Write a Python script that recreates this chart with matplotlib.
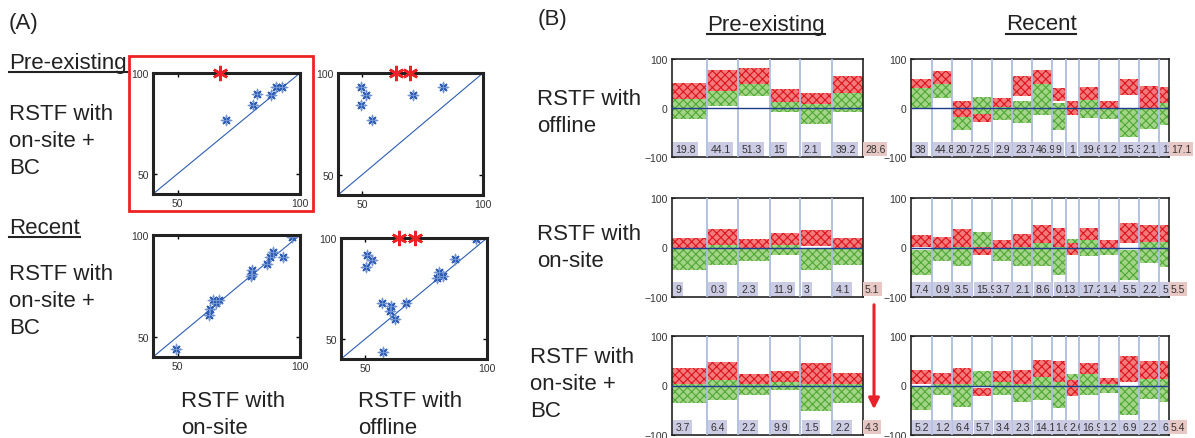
import numpy as np
import matplotlib.pyplot as plt
from matplotlib.lines import Line2D
from matplotlib.patches import Rectangle

plt.rcParams['font.family'] = ['Liberation Sans', 'DejaVu Sans']
plt.rcParams['hatch.linewidth'] = 0.8

# ---- (A) scatter data: y = RSTF with on-site + BC ----
pre_bc_y = [76.8, 84.2, 89.4, 89.1, 92.9, 93.0]
pre_onsite_x = [69.7, 80.7, 82.3, 88.2, 90.1, 92.8]
pre_offline_x = [54.1, 49.7, 51.4, 71.0, 49.7, 83.4]
pre_onsite_stars = [67.3]
pre_offline_stars = [63.9, 69.9]

rec_onsite_x = [49.5, 62.9, 63.2, 64.6, 65.9, 67.0, 79.8, 80.6, 80.3, 86.4, 87.7, 88.8, 92.9, 96.6]
rec_onsite_y = [43.8, 60.7, 63.4, 67.9, 66.7, 67.9, 79.8, 82.6, 80.7, 85.6, 89.2, 91.8, 89.2, 99.0]
rec_offline_x = [50.6, 52.6, 50.2, 56.8, 60.7, 60.2, 62.3, 66.8, 57.4, 80.1, 79.4, 82.1, 87.0, 95.6]
rec_offline_y = [91.7, 89.1, 85.8, 67.8, 66.4, 63.6, 59.8, 67.8, 43.6, 83.0, 80.2, 81.0, 89.6, 99.5]
rec_onsite_stars = []
rec_offline_stars = [63.9, 70.5]
star_y = 100

# ---- (B) segment widths ----
pre_widths = [35, 30.7, 32, 30.6, 31.7, 31]
rec_widths = [20.7, 20, 20.6, 20, 19.4, 20.6, 20, 13.4, 13.3, 20, 20, 20, 20, 10.3]

# pre-existing, offline
pre_off_red_hi = [52, 78, 82, 38, 30, 65]
pre_off_red_lo = [18, 35, 48, 12, 8, 30]
pre_off_grn_hi = [25, 52, 68, 25, 12, 40]
pre_off_grn_lo = [-22, 5, 25, -8, -32, -8]
pre_off_labels = ["19.8", "44.1", "51.3", "15", "2.1", "39.2"]
pre_off_total = "28.6"

# pre-existing, on-site
pre_on_red_hi = [20, 38, 18, 30, 35, 20]
pre_on_red_lo = [0, 5, 0, 5, 3, 0]
pre_on_grn_hi = [0, 5, 5, 18, 0, 0]
pre_on_grn_lo = [-45, -35, -28, -15, -45, -35]
pre_on_labels = ["9", "0.3", "2.3", "11.9", "3", "4.1"]
pre_on_total = "5.1"

# pre-existing, on-site + BC
pre_bc_red_hi = [35, 48, 24, 30, 45, 26]
pre_bc_red_lo = [3, 12, 3, 7, 3, 3]
pre_bc_grn_hi = [3, 12, 10, 20, 3, 3]
pre_bc_grn_lo = [-36, -30, -20, -10, -52, -36]
pre_bc_labels = ["3.7", "6.4", "2.2", "9.9", "1.5", "2.2"]
pre_bc_total = "4.3"

# recent, offline
rec_off_red_hi = [60, 75, 15, -12, 20, 65, 78, 40, 15, 42, 15, 60, 45, 42]
rec_off_red_lo = [40, 50, -18, -28, 2, 25, 48, 15, -15, 16, -3, 26, 0, 10]
rec_off_grn_hi = [45, 75, 0, 22, 15, 15, 50, 10, 15, 30, 8, 0, 35, 25]
rec_off_grn_lo = [0, 20, -45, -22, -25, -30, -15, -45, -10, -20, -22, -60, -42, -35]
rec_off_labels = ["38", "44.8", "20.7", "2.5", "2.9", "23.7", "46.9", "9", "1",
                  "19.6", "1.2", "15.3", "2.1", "12"]
rec_off_total = "17.1"

# recent, on-site
rec_on_red_hi = [25, 22, 38, 2, 15, 28, 45, 40, 10, 40, 15, 50, 45, 45]
rec_on_red_lo = [2, 0, 2, -15, 0, 2, 9, 2, -15, 16, 0, 9, 12, 12]
rec_on_grn_hi = [-5, 2, 12, 32, 5, 2, 9, 2, 18, 19, 9, -5, 16, 26]
rec_on_grn_lo = [-55, -28, -38, 0, -28, -38, -38, -55, -8, -18, -15, -65, -32, -40]
rec_on_labels = ["7.4", "0.9", "3.5", "15.9", "3.7", "2.1", "8.6", "0.13", "",
                 "17.2", "1.4", "5.5", "2.2", "5.1"]
rec_on_total = "5.5"

# recent, on-site + BC
rec_bc_red_hi = [32, 26, 36, -5, 30, 32, 52, 50, 12, 46, 16, 60, 50, 50]
rec_bc_red_lo = [3, 3, 3, -22, 7, 3, 17, 7, -22, 24, 3, 7, 14, 14]
rec_bc_grn_hi = [0, 3, 3, 30, 14, 3, 17, 7, 24, 24, 10, 0, 14, 28]
rec_bc_grn_lo = [-50, -20, -43, -3, -20, -33, -30, -46, -3, -20, -16, -60, -27, -33]
rec_bc_labels = ["5.2", "1.2", "6.4", "5.7", "3.4", "2.3", "14.1", "1.6", "2.6",
                 "16.9", "1.2", "6.9", "2.2", "6.5"]
rec_bc_total = "5.4"

W, H = 1195, 439
fig = plt.figure(figsize=(W / 100, H / 100), dpi=100)


def px_axes(x0, y0, x1, y1):
    return fig.add_axes([x0 / W, 1 - y1 / H, (x1 - x0) / W, (y1 - y0) / H])


def fig_text(x, y, s, **kw):
    kw.setdefault('fontsize', 16)
    kw.setdefault('color', '#222222')
    kw.setdefault('linespacing', 1.38)
    return fig.text(x / W, 1 - y / H, s, **kw)


def scatter_panel(ax, x, y, stars):
    blue = '#2d5db5'
    ax.plot([40, 100], [40, 100], color=blue, lw=0.8)
    ax.plot(x, y, ls='none', marker=(8, 2, 0), ms=7, mew=1.0, color=blue)
    ax.plot(x, y, ls='none', marker='+', ms=9, mew=0.6, color='#7a9ad6')
    ax.plot(stars, [star_y] * len(stars), ls='none', marker=(6, 2, 0), ms=11, mew=1.8,
            color='#ee2222', clip_on=False, zorder=5)
    ax.set_xlim(40, 100)
    ax.set_ylim(40, 100)
    ax.set_xticks([50, 100])
    ax.set_yticks([50, 100])
    ax.tick_params(direction='in', length=3, width=1, top=True, right=True,
                   labelsize=7.5, labelcolor='#333333', pad=3)
    for s in ax.spines.values():
        s.set_linewidth(2.2)
        s.set_color('#222222')


def cn_panel(ax, widths, red_lo, red_hi, grn_lo, grn_hi, labels, total):
    edges = np.concatenate([[0], np.cumsum(widths)])
    ext = lambda v: np.append(v, v[-1])
    ax.fill_between(edges, ext(grn_lo), ext(grn_hi), step='post', facecolor='#a3d487',
                    edgecolor='#4fa833', hatch='xxxx', lw=0, zorder=2)
    ax.fill_between(edges, ext(red_lo), ext(red_hi), step='post', facecolor='#f27a7a',
                    edgecolor='#dc141c', hatch='xxxx', lw=0, zorder=2)
    for e in edges[1:-1]:
        ax.axvline(e, color='#aebde0', lw=1.3, zorder=3)
    ax.axhline(0, color='#1f3c8c', lw=1, zorder=4)
    for e, s in zip(edges[:-1], labels):
        if s:
            ax.text(e + 3.5, -83, s, ha='left', va='center', fontsize=7.5, color='#333333',
                    zorder=5, bbox=dict(boxstyle='square,pad=0.2', fc='#cbcbe4', ec='none'))
    ax.text(edges[-1] + 2, -83, total, ha='left', va='center', fontsize=7.5,
            color='#333333', zorder=6, clip_on=False,
            bbox=dict(boxstyle='square,pad=0.2', fc='#e8c8c4', ec='none'))
    ax.set_xlim(0, edges[-1])
    ax.set_ylim(-100, 100)
    ax.set_xticks([])
    ax.set_yticks([-100, 0, 100])
    ax.tick_params(direction='in', length=2, labelsize=7.5, labelcolor='#333333', pad=3)
    for s in ax.spines.values():
        s.set_linewidth(1.2)
        s.set_color('#222222')


# ---- (A) ----
scatter_panel(px_axes(153, 74, 300, 195), pre_onsite_x, pre_bc_y, pre_onsite_stars)
scatter_panel(px_axes(338, 74, 483, 196), pre_offline_x, pre_bc_y, pre_offline_stars)
scatter_panel(px_axes(153, 236, 300, 358), rec_onsite_x, rec_onsite_y, rec_onsite_stars)
scatter_panel(px_axes(341, 239, 487, 360), rec_offline_x, rec_offline_y, rec_offline_stars)

fig.add_artist(Rectangle((129 / W, 1 - 212 / H), (313 - 129) / W, (212 - 57) / H,
                         transform=fig.transFigure, fill=False, ec='#ee2222', lw=2))

under = []
fig_text(9, 23, "(A)", va='center')
under.append(fig_text(9, 63, "Pre-existing", va='center'))
fig_text(9, 104, "RSTF with\non-site +\nBC", va='top')
under.append(fig_text(9, 228, "Recent", va='center'))
fig_text(9, 264, "RSTF with\non-site +\nBC", va='top')
fig_text(233, 391, "RSTF with\non-site", va='top', ha='center', multialignment='left')
fig_text(410, 391, "RSTF with\noffline", va='top', ha='center', multialignment='left')

# ---- (B) ----
cn_panel(px_axes(672, 60, 863, 158), pre_widths, pre_off_red_lo, pre_off_red_hi,
         pre_off_grn_lo, pre_off_grn_hi, pre_off_labels, pre_off_total)
cn_panel(px_axes(672, 199, 863, 298), pre_widths, pre_on_red_lo, pre_on_red_hi,
         pre_on_grn_lo, pre_on_grn_hi, pre_on_labels, pre_on_total)
cn_panel(px_axes(672, 337, 863, 436), pre_widths, pre_bc_red_lo, pre_bc_red_hi,
         pre_bc_grn_lo, pre_bc_grn_hi, pre_bc_labels, pre_bc_total)
cn_panel(px_axes(911, 60, 1169, 158), rec_widths, rec_off_red_lo, rec_off_red_hi,
         rec_off_grn_lo, rec_off_grn_hi, rec_off_labels, rec_off_total)
cn_panel(px_axes(911, 199, 1169, 298), rec_widths, rec_on_red_lo, rec_on_red_hi,
         rec_on_grn_lo, rec_on_grn_hi, rec_on_labels, rec_on_total)
cn_panel(px_axes(911, 337, 1169, 436), rec_widths, rec_bc_red_lo, rec_bc_red_hi,
         rec_bc_grn_lo, rec_bc_grn_hi, rec_bc_labels, rec_bc_total)

fig_text(538, 20, "(B)", va='center')
under.append(fig_text(766, 25, "Pre-existing", va='center', ha='center'))
under.append(fig_text(1041, 25, "Recent", va='center', ha='center'))
fig_text(537, 89, "RSTF with\noffline", va='top')
fig_text(537, 224, "RSTF with\non-site", va='top')
fig_text(530, 347, "RSTF with\non-site +\nBC", va='top')

fig.add_artist(plt.Annotation('', xy=(874, H - 413), xytext=(874, H - 303),
                              xycoords='figure pixels',
                              arrowprops=dict(arrowstyle='-|>', color='#e8222a', lw=2.2,
                                              mutation_scale=16)))

# underline the group headers
fig.canvas.draw()
r = fig.canvas.get_renderer()
inv = fig.transFigure.inverted()
for t in under:
    bb = t.get_window_extent(r)
    (x0, y0), (x1, _) = inv.transform([(bb.x0, bb.y0 + 1), (bb.x1, bb.y0 + 1)])
    fig.add_artist(Line2D([x0, x1], [y0, y0], transform=fig.transFigure,
                          color='#222222', lw=1.5))

fig.savefig("out.png", dpi=100)
